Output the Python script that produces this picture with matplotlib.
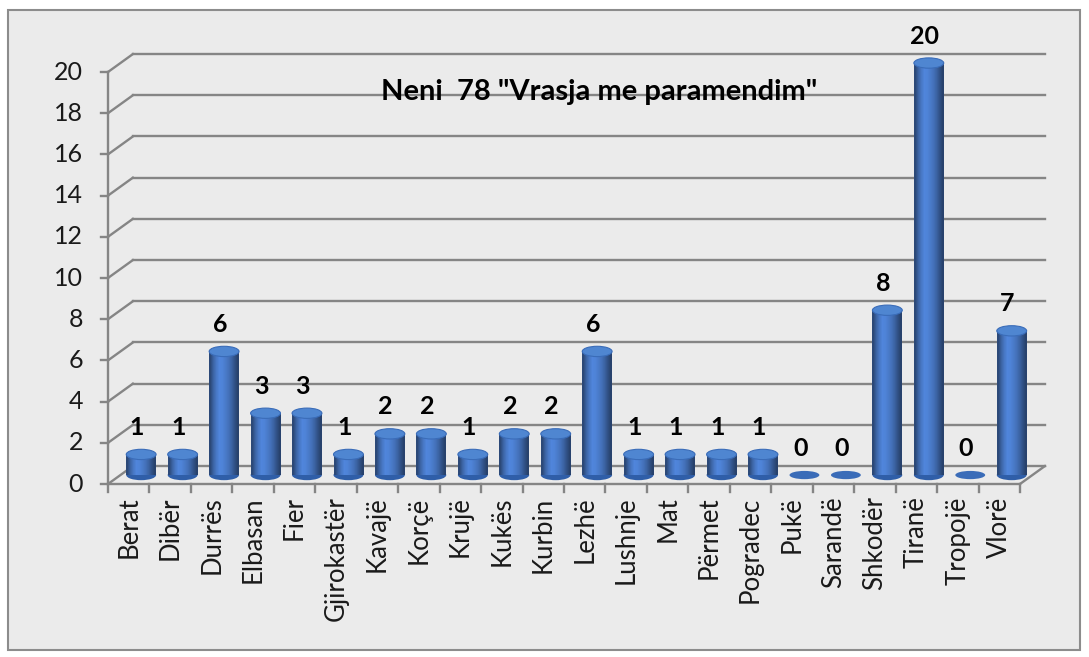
import matplotlib.pyplot as plt
import numpy as np
from matplotlib.patches import Ellipse, Rectangle

CITIES = ['Berat', 'Dibër', 'Durrës', 'Elbasan', 'Fier', 'Gjirokastër', 'Kavajë',
          'Korçë', 'Krujë', 'Kukës', 'Kurbin', 'Lezhë', 'Lushnje', 'Mat', 'Përmet',
          'Pogradec', 'Pukë', 'Sarandë', 'Shkodër', 'Tiranë', 'Tropojë', 'Vlorë']
CASES = [1, 1, 6, 3, 3, 1, 2, 2, 1, 2, 2, 6, 1, 1, 1, 1, 0, 0, 8, 20, 0, 7]
Y_TICKS = list(range(0, 21, 2))
TITLE = 'Neni  78 "Vrasja me paramendim"'

FONT = ['Lato', 'DejaVu Sans']
GRID = '#858585'
DX, DY = 0.60, 0.87      # depth offset of back wall (data units)
BAR_W = 0.72
CAP_H = 0.50

fig = plt.figure(figsize=(10.89, 6.57), dpi=100)
fig.patch.set_facecolor('white')
# outer chart area
fig.add_artist(Rectangle((8 / 1089, 7 / 657), 1072 / 1089, 640 / 657, transform=fig.transFigure,
                         facecolor='#ebebeb', edgecolor='#8c8c8c', linewidth=1.5, zorder=0))

ax = fig.add_axes([108 / 1089, 173 / 657, 912 / 1089, 412 / 657])
ax.set_facecolor('none')
n = len(CITIES)
for s in ax.spines.values():
    s.set_visible(False)
ax.set_xticks([])
ax.set_yticks([])

# back wall gridlines + left diagonal joins
for y in Y_TICKS:
    ax.plot([-0.5 + DX, n - 0.5 + DX], [y + DY, y + DY], color=GRID, lw=1.7, clip_on=False, zorder=1)
    ax.plot([-0.5, -0.5 + DX], [y, y + DY], color=GRID, lw=1.7, clip_on=False, zorder=1)
    ax.plot([-0.5 - 0.18, -0.5], [y, y], color=GRID, lw=1.7, clip_on=False, zorder=1)
    ax.text(-0.5 - 0.6, y, str(y), ha='right', va='center', fontsize=18, family=FONT,
            color='#1a1a1a', clip_on=False)

# front axes
ax.plot([-0.5, -0.5], [0, 20], color=GRID, lw=1.7, clip_on=False, zorder=1)
ax.plot([-0.5, n - 0.5], [0, 0], color=GRID, lw=1.7, clip_on=False, zorder=1)
ax.plot([n - 0.5, n - 0.5 + DX], [0, DY], color=GRID, lw=1.7, clip_on=False, zorder=1)
for i in range(n + 1):
    ax.plot([i - 0.5, i - 0.5], [0, -0.4], color=GRID, lw=1.7, clip_on=False, zorder=1)

# cylinder bars
shade = np.array([0.55, 0.75, 0.9, 1.0, 0.98, 0.92, 0.85, 0.75, 0.62, 0.5])
base = np.array([0.30, 0.50, 0.82])
grad = np.clip(base[None, :] * shade[:, None] * 1.05, 0, 1)[None, :, :]
for i, v in enumerate(CASES):
    cx = i + DX / 2
    y0 = DY / 2
    x0, x1 = cx - BAR_W / 2, cx + BAR_W / 2
    if v > 0:
        ax.add_patch(Ellipse((cx, y0), BAR_W, CAP_H, facecolor='#2f5ea8', edgecolor='none',
                             zorder=3, clip_on=False))
        ax.imshow(grad, extent=[x0, x1, y0, y0 + v], aspect='auto', zorder=3,
                  interpolation='bilinear', clip_on=False)
        ax.add_patch(Ellipse((cx, y0 + v), BAR_W, CAP_H, facecolor='#4f86d1',
                             edgecolor='#3a6cb8', lw=0.8, zorder=4, clip_on=False))
    else:
        ax.add_patch(Ellipse((cx, y0), BAR_W, CAP_H * 0.8, facecolor='#3a6cb8', edgecolor='none',
                             zorder=3, clip_on=False))
    ax.text(cx - 0.1, y0 + v + 0.75, str(v), ha='center', va='bottom', fontsize=18,
            fontweight='bold', family=FONT, color='black', zorder=5, clip_on=False)
    ax.text(i, -0.6, CITIES[i], rotation=90, ha='center', va='top', fontsize=18.5,
            family=FONT, color='#1a1a1a', clip_on=False)

ax.set_xlim(-0.5, n - 0.5)
ax.set_ylim(0, 20)

ax.text(11.35, 19.05, TITLE, ha='center', va='center', fontsize=21, fontweight='bold',
        family=FONT, color='black', zorder=5)

fig.savefig('out.png', dpi=100)
